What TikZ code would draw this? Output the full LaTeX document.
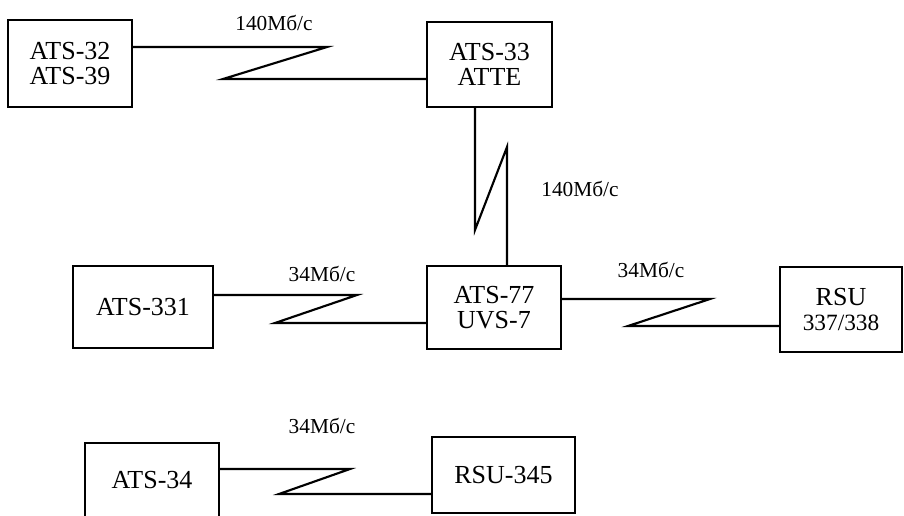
\documentclass[tikz,border=0pt]{standalone}
\usepackage{fontspec}
\setmainfont{Liberation Serif}
\usetikzlibrary{positioning, calc}

\begin{document}
\begin{tikzpicture}[x=0.75pt, y=-0.75pt,
    station/.style={rectangle, draw, line width=1.5pt, align=center, inner sep=0pt,
      font=\fontsize{19.5}{19}\selectfont},
    link/.style={line width=1.6pt, line join=miter},
    rate/.style={font=\fontsize{16}{16}\selectfont}]
  \useasboundingbox[fill=white] (0,0) rectangle (904,515);

  % stations
  \node[station, minimum width=124*0.75pt, minimum height=87*0.75pt] (ats32) at (70,63.5) {ATS-32\\ATS-39};
  \node[station, minimum width=125*0.75pt, minimum height=85*0.75pt] (atte) at (489.5,64.5) {ATS-33\\ATTE};
  \node[station, minimum width=140*0.75pt, minimum height=82*0.75pt] (ats331) at (143,307) {ATS-331};
  \node[station, minimum width=134*0.75pt, minimum height=83*0.75pt] (ats77) at (494,307.5) {ATS-77\\UVS-7};
  \node[station, minimum width=122*0.75pt, minimum height=85*0.75pt] (rsu) at (841,309.5)
    {RSU\\{\fontsize{17.5}{17}\selectfont 337/338}};
  \node[station, minimum width=134*0.75pt, minimum height=74*0.75pt] (ats34) at (152,480) {ATS-34};
  \node[station, minimum width=143*0.75pt, minimum height=76*0.75pt] (rsu345) at (503.5,475) {RSU-345};

  % zigzag corners
  \coordinate (za1) at (327,47);  \coordinate (zb1) at (223,79);
  \coordinate (za2) at (475,230); \coordinate (zb2) at (507,147);
  \coordinate (za3) at (357,295); \coordinate (zb3) at (275,323);
  \coordinate (za4) at (710,299); \coordinate (zb4) at (628,326);
  \coordinate (za5) at (350,469); \coordinate (zb5) at (279,494);

  % links
  \draw[link] (ats32.east |- za1) -- (za1) -- (zb1) -- (atte.west |- zb1);
  \draw[link] (atte.south -| za2) -- (za2) -- (zb2) -- (ats77.north -| zb2);
  \draw[link] (ats331.east |- za3) -- (za3) -- (zb3) -- (ats77.west |- zb3);
  \draw[link] (ats77.east |- za4) -- (za4) -- (zb4) -- (rsu.west |- zb4);
  \draw[link] (ats34.east |- za5) -- (za5) -- (zb5) -- (rsu345.west |- zb5);

  % rates
  \node[rate] (r1) at (274,23) {140Мб/с};
  \node[rate] (r2) at (580,189) {140Мб/с};
  \node[rate] (r3) at (322,274) {34Мб/с};
  \node[rate] (r4) at (651,270) {34Мб/с};
  \node[rate] (r5) at (322,426) {34Мб/с};
\end{tikzpicture}
\end{document}
